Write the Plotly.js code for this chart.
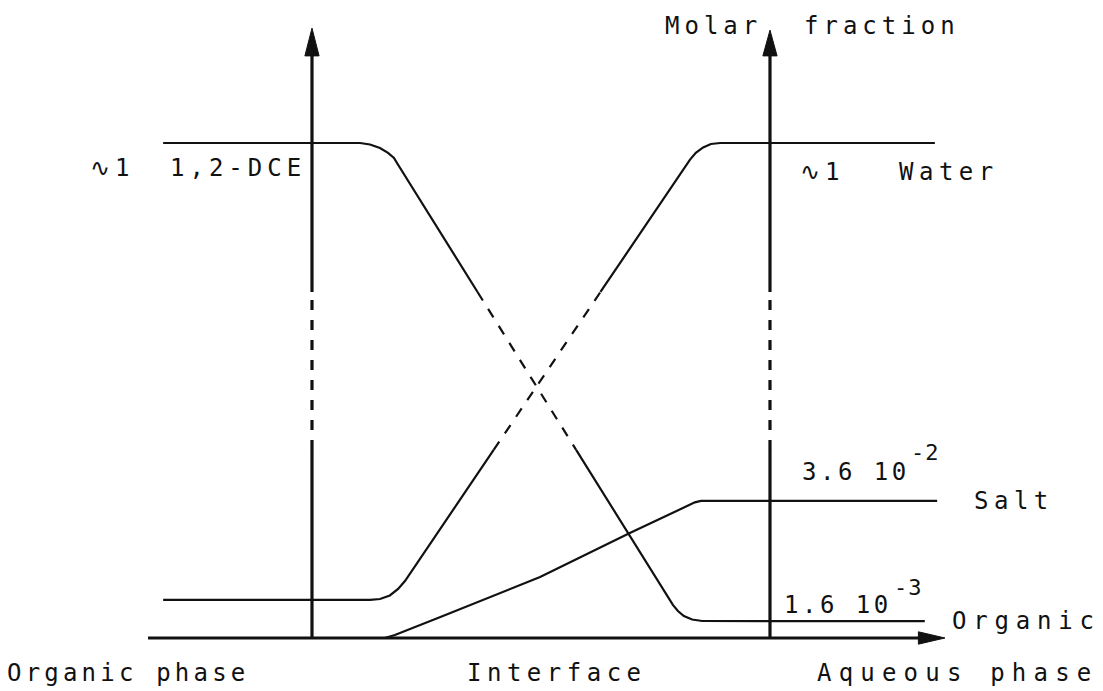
<!DOCTYPE html>
<html>
<head>
<meta charset="utf-8">
<script src="https://cdn.plot.ly/plotly-3.0.1.min.js"></script>
<style>html,body{margin:0;padding:0;background:#fff;}#chart{width:1103px;height:691px;}</style>
</head>
<body>
<div id="chart"></div>
<script>
// Schematic units: x = distance (left phase axis at 0, right phase axis at 100),
// y = molar fraction on a schematic scale (x-axis at 0, "~1" plateau at 100).

// 1,2-DCE (organic solvent) profile
const dceX = [-32.5, 10.5, 12.66, 14.85, 16.6, 17.9, 18.8, 78.8, 79.9, 81.2, 83.0, 85.2, 133.8];
const dceY = [100.0, 100.0, 99.7, 99.0, 98.0, 97.0, 95.6, 6.7, 5.45, 4.44, 3.74, 3.43, 3.4];

// Water profile
const waterX = [-32.5, 12.7, 14.85, 17.0, 18.8, 20.3, 82.5, 83.8, 85.4, 87.1, 89.1, 136.0];
const waterY = [7.7, 7.7, 7.88, 8.59, 9.9, 11.5, 96.6, 98.0, 99.1, 99.8, 100.0, 100.0];

// Salt profile
const saltX = [15.9, 18.1, 27.9, 49.8, 69.4, 82.5, 83.6, 84.9, 136.5];
const saltY = [0.0, 0.6, 4.2, 12.3, 21.2, 26.9, 27.4, 27.7, 27.7];

// Axis break (dashed zone) and axis extents
const breakLo = 38.0, breakHi = 69.9;
const phaseAxesX = [0, 100];
const phaseAxisTop = 118.2;
const arrowTipY = [123.2, 122.8];
const xAxisStart = -35.8, xAxisEnd = 133.4, xArrowTip = 138.2;

// Labels
const labelPlateau = "∿1";
const labelDCE = "1,2-DCE";
const labelWater = "Water";
const labelSalt = "Salt";
const labelOrganic = "Organic";
const labelSaltVal = ["3.6 10", "-2"];
const labelOrgVal = ["1.6 10", "-3"];
const labelYTitle = ["Molar", "fraction"];
const labelRegions = ["Organic phase", "Interface", "Aqueous phase"];

function splitSeries(xs, ys, lo, hi) {
  const region = y => (y < lo ? 0 : (y > hi ? 2 : 1));
  const pieces = [];
  let cur = null;
  for (let i = 0; i < xs.length - 1; i++) {
    const x0 = xs[i], y0 = ys[i], x1 = xs[i + 1], y1 = ys[i + 1];
    const ts = [0];
    [lo, hi].forEach(b => {
      if ((y0 - b) * (y1 - b) < 0) ts.push((b - y0) / (y1 - y0));
    });
    ts.push(1);
    ts.sort((a, b) => a - b);
    for (let k = 0; k < ts.length - 1; k++) {
      const ta = ts[k], tb = ts[k + 1];
      const xa = x0 + (x1 - x0) * ta, ya = y0 + (y1 - y0) * ta;
      const xb = x0 + (x1 - x0) * tb, yb = y0 + (y1 - y0) * tb;
      const dashed = region((ya + yb) / 2) === 1;
      if (!cur || cur.dashed !== dashed) {
        cur = { dashed: dashed, x: [xa], y: [ya] };
        pieces.push(cur);
      }
      cur.x.push(xb); cur.y.push(yb);
    }
  }
  return pieces;
}

const traces = [];
function addSeries(xs, ys, width) {
  splitSeries(xs, ys, breakLo, breakHi).forEach(p => {
    traces.push({
      type: 'scatter', mode: 'lines', x: p.x, y: p.y,
      line: { color: '#111', width: width, dash: p.dashed ? '10px,10px' : 'solid' },
      hoverinfo: 'skip', showlegend: false
    });
  });
}

// vertical phase axes
phaseAxesX.forEach(ax => addSeries([ax, ax], [0, phaseAxisTop], 3.2));
// horizontal axis
traces.push({
  type: 'scatter', mode: 'lines', x: [xAxisStart, xAxisEnd], y: [0, 0],
  line: { color: '#111', width: 3.2 }, hoverinfo: 'skip', showlegend: false
});
// profiles
addSeries(dceX, dceY, 2.2);
addSeries(waterX, waterY, 2.2);
addSeries(saltX, saltY, 2.2);

// arrowheads
const shapes = [];
phaseAxesX.forEach((ax, i) => {
  shapes.push({
    type: 'path', xref: 'x', yref: 'y',
    path: `M ${ax - 1.55},${phaseAxisTop - 0.6} L ${ax},${arrowTipY[i]} L ${ax + 1.55},${phaseAxisTop - 0.6} Z`,
    fillcolor: '#111', line: { color: '#111', width: 1 }
  });
});
shapes.push({
  type: 'path', xref: 'x', yref: 'y',
  path: `M ${xAxisEnd - 1},1.25 L ${xArrowTip},0 L ${xAxisEnd - 1},-1.25 Z`,
  fillcolor: '#111', line: { color: '#111', width: 1 }
});

const FONT = { family: 'DejaVu Sans Mono, monospace', size: 24, color: '#111' };
function sp(t, ls) { return '<span style="letter-spacing:' + ls + 'px">' + t + '</span>'; }
function lab(text, x, y, ls, size) {
  return { text: sp(text, ls), x: x, y: y, xref: 'x', yref: 'y', showarrow: false,
           xanchor: 'left', yanchor: 'middle',
           font: Object.assign({}, FONT, size ? { size: size } : {}) };
}

const annotations = [
  lab(labelPlateau, -48.9, 95.0, 5),
  lab(labelDCE, -31.4, 95.0, 5),
  lab(labelPlateau, 106.1, 94.1, 5),
  lab(labelWater, 127.7, 94.1, 5.5),
  lab(labelYTitle[0], 76.6, 123.6, 5),
  lab(labelYTitle[1], 107.0, 123.6, 5),
  lab(labelSaltVal[0], 106.6, 33.6, 3.5),
  lab(labelSaltVal[1], 130.4, 37.4, 1, 22),
  lab(labelSalt, 144.1, 27.7, 5.5),
  lab(labelOrgVal[0], 102.6, 6.6, 3.5),
  lab(labelOrgVal[1], 126.6, 10.2, 1, 22),
  lab(labelOrganic, 139.3, 3.4, 6.8),
  lab(labelRegions[0], -67.0, -7.1, 4.2),
  lab(labelRegions[1], 33.4, -7.1, 5.5),
  lab(labelRegions[2], 109.8, -7.1, 7.2)
];

const layout = {
  width: 1103, height: 691,
  margin: { l: 0, r: 0, t: 0, b: 0 },
  paper_bgcolor: '#fff', plot_bgcolor: '#fff',
  xaxis: { range: [-68.12, 172.71], visible: false, fixedrange: true },
  yaxis: { range: [-10.71, 128.89], visible: false, fixedrange: true },
  showlegend: false,
  shapes: shapes,
  annotations: annotations
};

Plotly.newPlot('chart', traces, layout, { staticPlot: true, displayModeBar: false });
</script>
</body>
</html>
